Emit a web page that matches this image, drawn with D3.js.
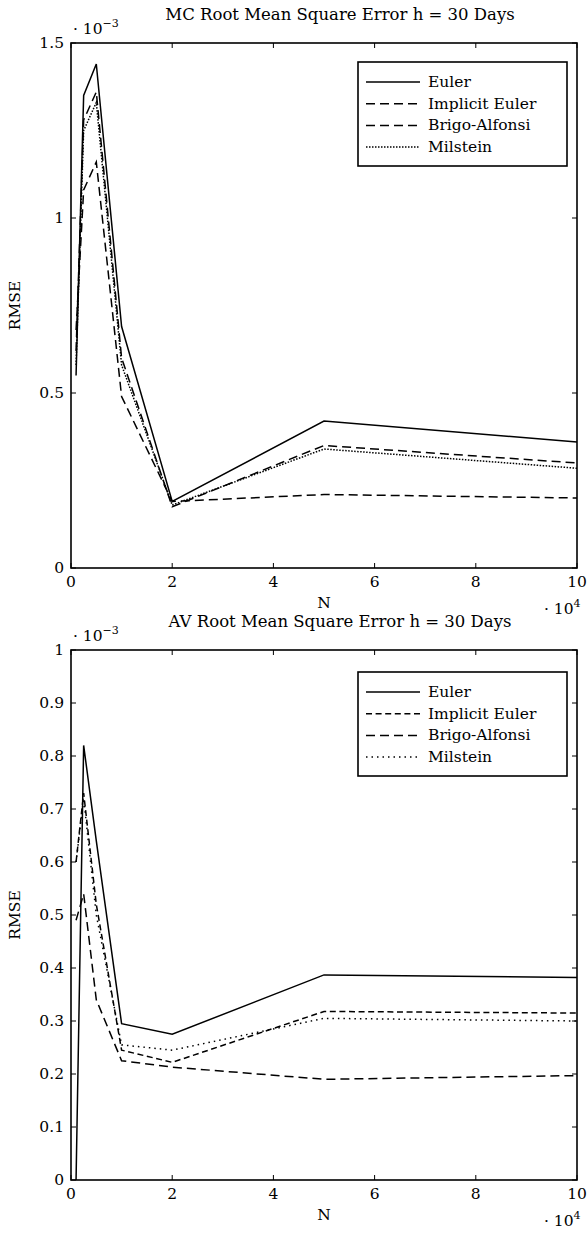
<!DOCTYPE html>
<html>
<head>
<meta charset="utf-8">
<script src="https://cdn.jsdelivr.net/npm/d3@7"></script>
<style>
  body { margin: 0; background: #fff; }
  text { font-family: "DejaVu Serif", "Liberation Serif", serif; fill: #000; }
</style>
</head>
<body>
<script>
// N values in units of 10^4
var N = [0.1, 0.25, 0.5, 1, 2, 5, 10];
var seriesNames = ["Euler", "Implicit Euler", "Brigo-Alfonsi", "Milstein"];

// MC RMSE (x 10^-3)
var mcEuler    = [0.55, 1.35, 1.44, 0.69, 0.19, 0.42, 0.36];
var mcImplicit = [0.62, 1.28, 1.36, 0.60, 0.175, 0.35, 0.30];
var mcBrigo    = [0.68, 1.08, 1.16, 0.49, 0.19, 0.21, 0.20];
var mcMilstein = [0.58, 1.25, 1.33, 0.58, 0.18, 0.34, 0.285];

// AV RMSE (x 10^-3)
var avEuler    = [0.0, 0.82, 0.64, 0.295, 0.275, 0.387, 0.382];
var avImplicit = [0.60, 0.73, 0.52, 0.245, 0.222, 0.318, 0.315];
var avBrigo    = [0.49, 0.54, 0.34, 0.225, 0.213, 0.19, 0.197];
var avMilstein = [0.60, 0.72, 0.50, 0.255, 0.245, 0.305, 0.30];

var xTicks = [0, 2, 4, 6, 8, 10];
var mcYTicks = [0, 0.5, 1, 1.5];
var avYTicks = [0, 0.1, 0.2, 0.3, 0.4, 0.5, 0.6, 0.7, 0.8, 0.9, 1];

var svg = d3.select("body").append("svg")
    .attr("width", 588)
    .attr("height", 1233);

function drawPanel(opt) {
    var x = d3.scaleLinear().domain([0, 10]).range([71, 577]);
    var y = d3.scaleLinear().domain(opt.yDomain).range([opt.bottom, opt.top]);
    var g = svg.append("g");

    // tick marks inside the box (all four sides)
    var tl = 5;
    g.selectAll(".xt").data(xTicks).enter().append("path")
        .attr("d", function (d) {
            return "M" + x(d) + "," + opt.bottom + "v" + (-tl) + "M" + x(d) + "," + opt.top + "v" + tl;
        })
        .attr("stroke", "#000").attr("stroke-width", 1);
    g.selectAll(".yt").data(opt.yTicks).enter().append("path")
        .attr("d", function (d) {
            return "M71," + y(d) + "h" + tl + "M577," + y(d) + "h" + (-tl);
        })
        .attr("stroke", "#000").attr("stroke-width", 1);

    g.selectAll(".xl").data(xTicks).enter().append("text")
        .attr("x", function (d) { return x(d); })
        .attr("y", opt.bottom + 19)
        .attr("text-anchor", "middle")
        .style("font-size", "15.5px")
        .text(function (d) { return d; });
    g.selectAll(".yl").data(opt.yTicks).enter().append("text")
        .attr("x", 64)
        .attr("y", function (d) { return y(d) + 5; })
        .attr("text-anchor", "end")
        .style("font-size", "15.5px")
        .text(function (d) { return d; });

    // lines
    var line = d3.line()
        .x(function (d, i) { return x(N[i]); })
        .y(function (d) { return y(d); });
    g.selectAll(".series").data(opt.series).enter().append("path")
        .attr("d", function (d) { return line(d.v); })
        .attr("fill", "none")
        .attr("stroke", "#000")
        .attr("stroke-width", 1.5)
        .attr("stroke-dasharray", function (d) { return d.dash; });

    // box
    g.append("rect")
        .attr("x", 71).attr("y", opt.top)
        .attr("width", 506).attr("height", opt.bottom - opt.top)
        .attr("fill", "none").attr("stroke", "#000").attr("stroke-width", 1.6);

    // legend
    var lg = g.append("g").attr("transform", "translate(358," + opt.legendTop + ")");
    lg.append("rect")
        .attr("width", 209).attr("height", 104)
        .attr("fill", "#fff").attr("stroke", "#000").attr("stroke-width", 1.6);
    var items = lg.selectAll(".li").data(opt.series).enter().append("g")
        .attr("transform", function (d, i) { return "translate(0," + (20 + i * 21.7) + ")"; });
    items.append("line")
        .attr("x1", 8).attr("x2", 62)
        .attr("stroke", "#000").attr("stroke-width", 1.5)
        .attr("stroke-dasharray", function (d) { return d.dash; });
    items.append("text")
        .attr("x", 70).attr("y", 5)
        .style("font-size", "15.5px")
        .text(function (d, i) { return seriesNames[i]; });

    // title, exponent labels, axis labels
    g.append("text").attr("x", 340).attr("y", opt.top - 23)
        .attr("text-anchor", "middle").style("font-size", "16.5px")
        .text(opt.title);
    var ex = g.append("text").attr("x", 73).attr("y", opt.top - 9).style("font-size", "15.5px");
    ex.append("tspan").text("\u00b7 10");
    ex.append("tspan").attr("dy", -7).style("font-size", "11px").text("\u22123");

    var ex2 = g.append("text").attr("x", 544).attr("y", opt.bottom + 46).style("font-size", "15.5px");
    ex2.append("tspan").text("\u00b7 10");
    ex2.append("tspan").attr("dy", -7).style("font-size", "11px").text("4");

    g.append("text").attr("x", 324).attr("y", opt.bottom + 40)
        .attr("text-anchor", "middle").style("font-size", "15.5px").text("N");
    g.append("text")
        .attr("transform", "translate(20," + ((opt.top + opt.bottom) / 2) + ") rotate(-90)")
        .attr("text-anchor", "middle").style("font-size", "15.5px").text("RMSE");
}

drawPanel({
    top: 43, bottom: 568, yDomain: [0, 1.5], yTicks: mcYTicks, legendTop: 62,
    title: "MC Root Mean Square Error h = 30 Days",
    series: [
        {v: mcEuler, dash: null},
        {v: mcImplicit, dash: "9,5"},
        {v: mcBrigo, dash: "9,5"},
        {v: mcMilstein, dash: "1.5,1.5"}
    ]
});

drawPanel({
    top: 650, bottom: 1180, yDomain: [0, 1], yTicks: avYTicks, legendTop: 672,
    title: "AV Root Mean Square Error h = 30 Days",
    series: [
        {v: avEuler, dash: null},
        {v: avImplicit, dash: "6,3.6"},
        {v: avBrigo, dash: "9,5"},
        {v: avMilstein, dash: "1.5,4"}
    ]
});
</script>
</body>
</html>
